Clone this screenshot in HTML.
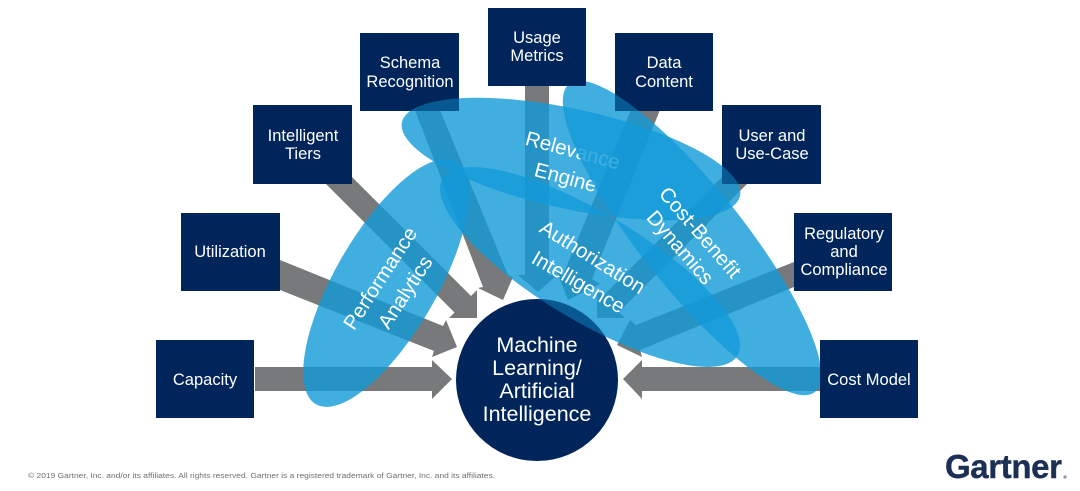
<!DOCTYPE html>
<html>
<head>
<meta charset="utf-8">
<style>
html,body{margin:0;padding:0;background:#fff;width:1080px;height:491px;overflow:hidden}
svg{display:block}
text{font-family:"Liberation Sans",sans-serif}
.b{fill:#fff;font-size:16.5px;text-anchor:middle}
.c{fill:#fff;font-size:21.5px;text-anchor:middle}
.e{fill:#fff;font-size:20.5px;text-anchor:middle}
</style>
</head>
<body>
<svg width="1080" height="491" viewBox="0 0 1080 491" xmlns="http://www.w3.org/2000/svg">
<defs>
<clipPath id="navy">
<rect x="360" y="33" width="99" height="78"/>
<rect x="615" y="33" width="98" height="78"/>
<rect x="722" y="105" width="99" height="79"/>
<circle cx="537" cy="380" r="81"/>
</clipPath>
</defs>
<rect width="1080" height="491" fill="#fff"/>

<!-- arrows -->
<g fill="#77797a">
<polygon points="255,367 432,367 432,360 452,379 432,399 432,391 255,391"/>
<polygon points="820,367 642,367 642,360 623,379 642,399 642,391 820,391"/>
<polygon points="280,260 443,326 446,320 457,347 432,357 434,351 280,290"/>
<polygon points="340,165 471,296 477,290 477,318 449,318 454.5,312.5 320,178"/>
<polygon points="413,105 438,105 508,275 513,277 503,300 478,288 483,287"/>
<polygon points="525,86 549,86 549,275 557,275 538,292 518,275 525,275"/>
<polygon points="633,105 662,105 592,279 600,284 568,300 557,272 563,275"/>
<polygon points="740,159 603,296 597,290 597,318 625,318 619,312 760,171"/>
<polygon points="794,262 636,325 630,320 617,345 642,357 640,350 794,287"/>
</g>

<!-- ellipses -->
<g fill="#119ad8" fill-opacity="0.8">
<ellipse cx="386" cy="283" rx="140" ry="51" transform="rotate(-60 386 283)"/>
<ellipse cx="590" cy="267" rx="172" ry="54" transform="rotate(31 590 267)"/>
<ellipse cx="571" cy="159" rx="173" ry="50" transform="rotate(12.3 571 159)"/>
</g>
<text class="e" transform="translate(571 157) rotate(15)">Relevance</text>
<text class="e" transform="translate(564 184) rotate(15)">Engine</text>
<ellipse cx="692" cy="238" rx="197" ry="51" transform="rotate(51.4 692 238)" fill="#119ad8" fill-opacity="0.8"/>

<!-- boxes -->
<g fill="#00255a">
<rect x="156" y="340" width="98" height="78"/>
<rect x="181" y="213" width="99" height="78"/>
<rect x="253" y="105" width="99" height="79"/>
<rect x="360" y="33" width="99" height="78"/>
<rect x="488" y="8" width="98" height="78"/>
<rect x="615" y="33" width="98" height="78"/>
<rect x="722" y="105" width="99" height="79"/>
<rect x="794" y="213" width="98" height="78"/>
<rect x="820" y="340" width="98" height="78"/>
<circle cx="537" cy="380" r="81"/>
</g>

<!-- tint where ellipses cross navy shapes -->
<g clip-path="url(#navy)" fill="#14a0e0" fill-opacity="0.42">
<ellipse cx="590" cy="267" rx="172" ry="54" transform="rotate(31 590 267)"/>
<ellipse cx="571" cy="159" rx="173" ry="50" transform="rotate(12.3 571 159)"/>
<ellipse cx="692" cy="238" rx="197" ry="51" transform="rotate(51.4 692 238)"/>
</g>

<!-- box labels -->
<text class="b" x="205" y="385">Capacity</text>
<text class="b" x="230" y="257">Utilization</text>
<text class="b" x="303" y="141">Intelligent</text>
<text class="b" x="303" y="159">Tiers</text>
<text class="b" x="410" y="68">Schema</text>
<text class="b" x="410" y="87">Recognition</text>
<text class="b" x="537" y="43">Usage</text>
<text class="b" x="537" y="61">Metrics</text>
<text class="b" x="664" y="68">Data</text>
<text class="b" x="664" y="87">Content</text>
<text class="b" x="772" y="141">User and</text>
<text class="b" x="772" y="159">Use-Case</text>
<text class="b" x="844" y="239">Regulatory</text>
<text class="b" x="844" y="257">and</text>
<text class="b" x="844" y="275">Compliance</text>
<text class="b" x="869" y="385">Cost Model</text>

<!-- circle label -->
<text class="c" x="537" y="352">Machine</text>
<text class="c" x="537" y="375">Learning/</text>
<text class="c" x="537" y="398">Artificial</text>
<text class="c" x="537" y="421">Intelligence</text>

<!-- ellipse labels -->
<text class="e" transform="translate(386 282) rotate(-57)">Performance</text>
<text class="e" transform="translate(411 296) rotate(-57)">Analytics</text>
<text class="e" transform="translate(589 263) rotate(32)">Authorization</text>
<text class="e" transform="translate(575 288) rotate(30)">Intelligence</text>
<text class="e" transform="translate(695 237) rotate(49)">Cost-Benefit</text>
<text class="e" transform="translate(675 252) rotate(49)">Dynamics</text>

<!-- footer -->
<text x="28" y="478" font-size="7" fill="#6f6f6f" textLength="467" lengthAdjust="spacingAndGlyphs">© 2019 Gartner, Inc. and/or its affiliates. All rights reserved. Gartner is a registered trademark of Gartner, Inc. and its affiliates.</text>
<text x="945" y="478" font-size="33" font-weight="bold" fill="#1c2f55" stroke="#1c2f55" stroke-width="0.4" textLength="117" lengthAdjust="spacing">Gartner</text>
<circle cx="1065" cy="477" r="1.6" fill="#8a97a8"/>
</svg>
</body>
</html>
